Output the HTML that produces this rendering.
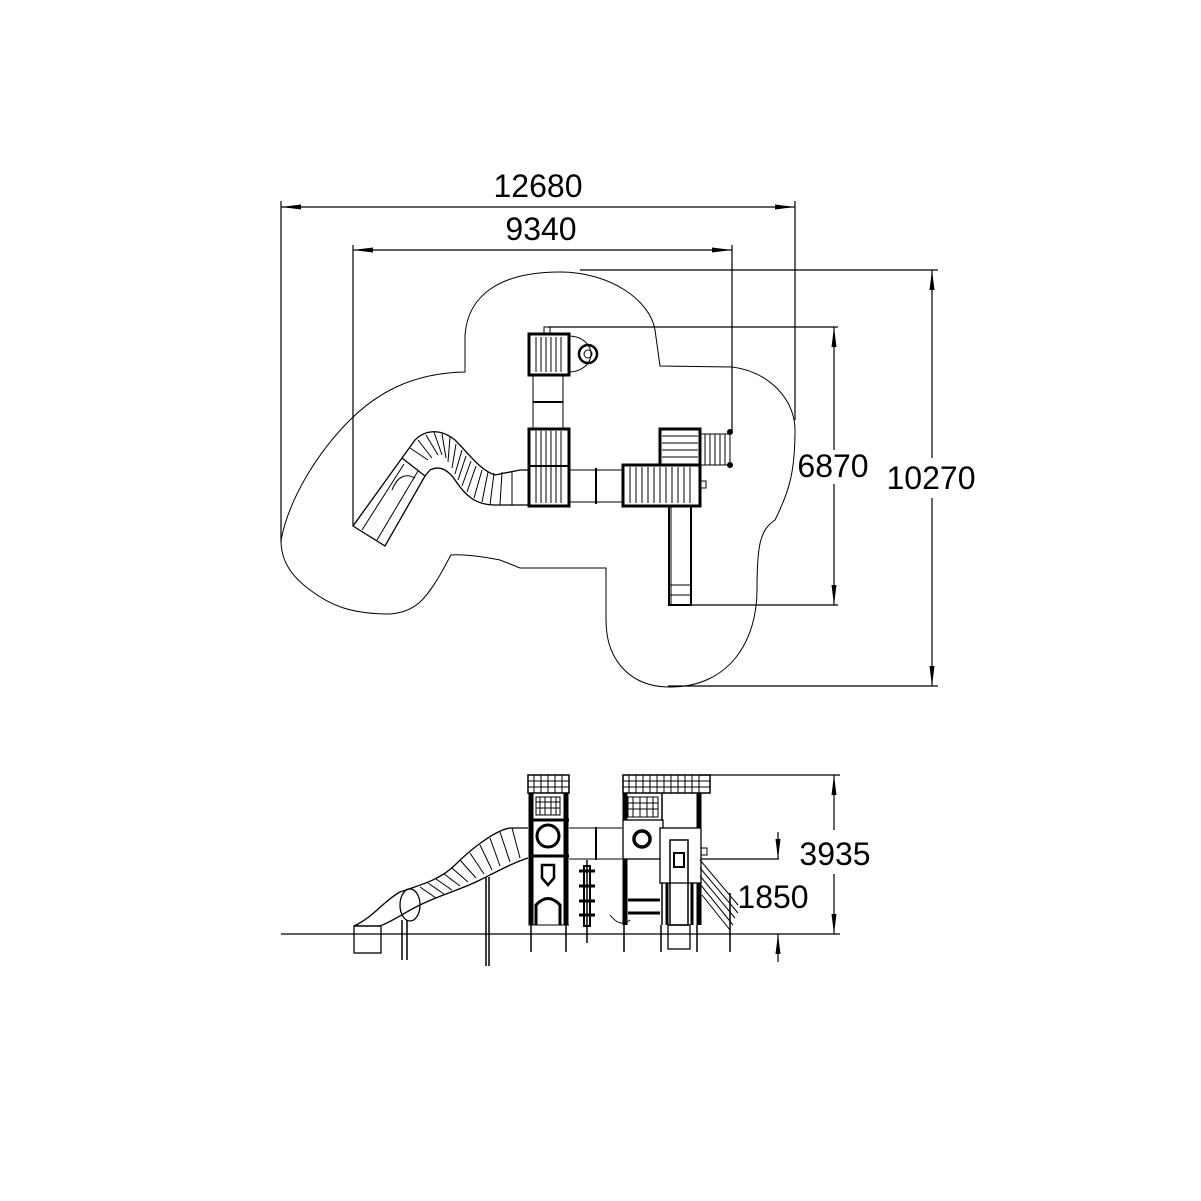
<!DOCTYPE html>
<html><head><meta charset="utf-8"><style>html,body{margin:0;padding:0;background:#fff}svg{display:block}text{font-family:"Liberation Sans",sans-serif;fill:#000}</style></head>
<body>
<svg width="1201" height="1201" viewBox="0 0 1201 1201" xmlns="http://www.w3.org/2000/svg">
<defs>
<marker id="a" viewBox="0 0 20 6" refX="20" refY="3" markerWidth="20" markerHeight="6" markerUnits="userSpaceOnUse" orient="auto-start-reverse"><path d="M0,0.5 L20,3 L0,5.5z" fill="#000"/></marker>
</defs>
<g stroke="#000" fill="none" stroke-width="1.2">
<line x1="281" y1="201" x2="281" y2="542"/><line x1="795" y1="201" x2="795" y2="420"/>
<line x1="281" y1="207" x2="795" y2="207" marker-start="url(#a)" marker-end="url(#a)"/>
<line x1="353" y1="245" x2="353" y2="526"/><line x1="732" y1="245" x2="732" y2="432"/>
<line x1="353" y1="250" x2="732" y2="250" marker-start="url(#a)" marker-end="url(#a)"/>
<line x1="580" y1="270" x2="938" y2="270"/><line x1="668" y1="686" x2="938" y2="686"/>
<line x1="932" y1="270" x2="932" y2="458" marker-start="url(#a)"/><line x1="932" y1="498" x2="932" y2="686" marker-end="url(#a)"/>
<line x1="548" y1="327" x2="838" y2="327"/><line x1="690" y1="605" x2="838" y2="605"/>
<line x1="834" y1="327" x2="834" y2="450" marker-start="url(#a)"/><line x1="834" y1="484" x2="834" y2="605" marker-end="url(#a)"/>
<path stroke-width="1" d="M281,540 C290,495 320,450 350,420 C375,395 410,373 465,372 L465,335 C468,295 500,272 560,272 C610,272 650,300 655,330 L660,366 L732,367 C770,372 795,400 795,430 C795,470 790,490 775,520 C760,530 757,545 757,590 C757,640 730,687 670,687 C630,687 606,660 606,620 L606,568 L520,568 L500,560 C480,556 460,554 451,555 L440,575 C425,600 415,612 390,614 C350,614 330,605 310,590 C290,575 281,560 281,540 Z"/>
</g>
<g stroke="#000" fill="none">
<rect x="529" y="334" width="40" height="41" stroke-width="3"/>
<g stroke-width="1"><line x1="536" y1="337" x2="536" y2="372"/><line x1="541" y1="337" x2="541" y2="372"/><line x1="546" y1="337" x2="546" y2="372"/><line x1="551" y1="337" x2="551" y2="372"/><line x1="556" y1="337" x2="556" y2="372"/><line x1="561" y1="337" x2="561" y2="372"/></g>
<rect x="544" y="327" width="6" height="7" stroke-width="1"/>
<path d="M569,336 A22,18 0 0 1 569,372" stroke-width="1"/>
<circle cx="588" cy="354" r="9" stroke-width="2.5"/><circle cx="588" cy="354" r="4" stroke-width="1"/>
<line x1="533" y1="375" x2="533" y2="428" stroke-width="1"/><line x1="563" y1="375" x2="563" y2="428" stroke-width="1"/>
<line x1="533" y1="402" x2="563" y2="402" stroke-width="2"/>
<rect x="529" y="429" width="40" height="77" stroke-width="3"/>
<line x1="529" y1="466" x2="569" y2="466" stroke-width="2"/>
<g stroke-width="1"><line x1="536" y1="431" x2="536" y2="503"/><line x1="541" y1="431" x2="541" y2="503"/><line x1="546" y1="431" x2="546" y2="503"/><line x1="551" y1="431" x2="551" y2="503"/><line x1="556" y1="431" x2="556" y2="503"/><line x1="561" y1="431" x2="561" y2="503"/></g>
<line x1="569" y1="470" x2="622" y2="470" stroke-width="1"/><line x1="569" y1="502" x2="622" y2="502" stroke-width="1"/>
<line x1="596" y1="468" x2="596" y2="504" stroke-width="2"/>
<rect x="623" y="465" width="77" height="41" stroke-width="3"/>
<g stroke-width="1"><line x1="630" y1="467" x2="630" y2="503"/><line x1="636" y1="467" x2="636" y2="503"/><line x1="642" y1="467" x2="642" y2="503"/><line x1="648" y1="467" x2="648" y2="503"/><line x1="654" y1="467" x2="654" y2="503"/><line x1="660" y1="467" x2="660" y2="503"/><line x1="666" y1="467" x2="666" y2="503"/><line x1="672" y1="467" x2="672" y2="503"/><line x1="678" y1="467" x2="678" y2="503"/><line x1="684" y1="467" x2="684" y2="503"/><line x1="690" y1="467" x2="690" y2="503"/></g>
<rect x="660" y="429" width="40" height="36" stroke-width="3"/>
<g stroke-width="1"><line x1="662" y1="436" x2="698" y2="436"/><line x1="662" y1="443" x2="698" y2="443"/><line x1="662" y1="450" x2="698" y2="450"/><line x1="662" y1="457" x2="698" y2="457"/></g>
<rect x="700" y="434" width="30" height="31" stroke-width="1"/>
<g stroke-width="1"><line x1="705" y1="434" x2="705" y2="465"/><line x1="710" y1="434" x2="710" y2="465"/><line x1="715" y1="434" x2="715" y2="465"/><line x1="720" y1="434" x2="720" y2="465"/><line x1="725" y1="434" x2="725" y2="465"/></g>
<circle cx="730" cy="432" r="2.5" fill="#000"/><circle cx="730" cy="465" r="2.5" fill="#000"/>
<rect x="700" y="481" width="6" height="7" stroke-width="1"/>
<rect x="669" y="506" width="22" height="99" stroke-width="2"/>
<line x1="671" y1="506" x2="671" y2="605" stroke-width="1"/>
<line x1="669" y1="585" x2="691" y2="585" stroke-width="1"/><line x1="669" y1="595" x2="691" y2="595" stroke-width="1"/>
<path d="M353,526 L385,546 L425,476 L402,458 Z" stroke-width="1.3"/>
<path d="M362,530 L404,464 M377,540 L418,471" stroke-width="1"/>
<path d="M392,490 Q400,470 415,478" stroke-width="1"/>
<path d="M402,458 L415,440 C425,430 440,428 455,440 C470,455 480,470 495,475 L520,470 L529,470 L529,505 L495,505 C475,505 465,495 455,480 C448,470 440,465 430,470 L425,476" stroke-width="1.3"/>
<g stroke-width="1">
<path d="M410,448 L428,460"/><path d="M418,440 L432,458"/><path d="M426,435 L438,455"/><path d="M434,432 L442,455"/><path d="M442,434 L446,458"/><path d="M450,437 L448,462"/><path d="M456,444 L452,468"/><path d="M462,450 L455,474"/><path d="M466,456 L458,480"/><path d="M471,461 L462,486"/><path d="M476,466 L467,492"/><path d="M482,470 L474,498"/><path d="M488,472 L482,502"/><path d="M494,473 L490,505"/><path d="M502,472 L500,505"/><path d="M512,471 L512,505"/>
</g>
</g>
<g stroke="#000" fill="none">
<line x1="281" y1="934" x2="840" y2="934" stroke-width="1.2"/>
<line x1="700" y1="775" x2="840" y2="775" stroke-width="1.2"/>
<line x1="834" y1="775" x2="834" y2="830" stroke-width="1.2" marker-start="url(#a)"/>
<line x1="834" y1="874" x2="834" y2="934" stroke-width="1.2" marker-end="url(#a)"/>
<line x1="700" y1="859" x2="779" y2="859" stroke-width="1.2"/>
<line x1="778" y1="832" x2="778" y2="859" stroke-width="1.2" marker-end="url(#a)"/>
<line x1="778" y1="962" x2="778" y2="934" stroke-width="1.2" marker-end="url(#a)"/>
<!-- tower 1 -->
<rect x="528" y="775" width="41" height="18" stroke-width="1.5"/>
<path d="M528,781 L569,781 M528,787 L569,787 M534,775 L534,793 M541,775 L541,793 M548,775 L548,793 M555,775 L555,793 M562,775 L562,793" stroke-width="1"/>
<rect x="529" y="793" width="39" height="132" stroke-width="1"/>
<line x1="531" y1="793" x2="531" y2="925" stroke-width="5"/><line x1="566" y1="793" x2="566" y2="925" stroke-width="5"/>
<rect x="536" y="797" width="24" height="18" stroke-width="1"/>
<path d="M536,802 L560,802 M536,808 L560,808 M540,797 L540,815 M545,797 L545,815 M551,797 L551,815 M556,797 L556,815" stroke-width="1"/>
<line x1="529" y1="820" x2="569" y2="820" stroke-width="3"/>
<circle cx="548" cy="836" r="11" stroke-width="3"/>
<line x1="529" y1="856" x2="569" y2="856" stroke-width="3"/>
<path d="M542,865 L554,865 L554,878 L548,885 L542,878 Z" stroke-width="2.5"/>
<path d="M536,925 L536,905 Q548,892 560,905 L560,925" stroke-width="3"/>
<line x1="529" y1="925" x2="569" y2="925" stroke-width="1"/>
<line x1="531" y1="925" x2="531" y2="952" stroke-width="1.5"/><line x1="566" y1="925" x2="566" y2="952" stroke-width="1.5"/>
<line x1="569" y1="828" x2="622" y2="828" stroke-width="1"/><line x1="569" y1="859" x2="622" y2="859" stroke-width="1"/>
<line x1="596" y1="827" x2="596" y2="860" stroke-width="2"/>
<line x1="587" y1="860" x2="587" y2="943" stroke-width="1.5"/>
<rect x="584" y="866" width="6" height="60" stroke-width="2"/>
<path d="M579,871 L595,871 M579,886 L595,886 M579,901 L595,901 M579,915 L595,915" stroke-width="3"/>
<!-- tower 2 -->
<rect x="623" y="775" width="87" height="18" stroke-width="1.5"/>
<path d="M623,781 L710,781 M623,787 L710,787 M629,775 L629,793 M636,775 L636,793 M643,775 L643,793 M650,775 L650,793 M657,775 L657,793 M664,775 L664,793 M671,775 L671,793 M678,775 L678,793 M685,775 L685,793 M692,775 L692,793 M699,775 L699,793" stroke-width="1"/>
<line x1="625" y1="793" x2="625" y2="925" stroke-width="5"/><line x1="699" y1="793" x2="699" y2="925" stroke-width="5"/>
<line x1="662" y1="793" x2="662" y2="925" stroke-width="1.5"/>
<rect x="628" y="797" width="30" height="20" stroke-width="1"/>
<path d="M628,803 L658,803 M628,809 L658,809 M633,797 L633,817 M640,797 L640,817 M647,797 L647,817 M653,797 L653,817" stroke-width="1"/>
<rect x="623" y="820" width="40" height="39" stroke-width="1.3" fill="#fff"/>
<circle cx="642" cy="839" r="8" stroke-width="3.5"/>
<rect x="660" y="828" width="41" height="55" stroke-width="1.3" fill="#fff"/>
<rect x="670" y="840" width="18" height="85" stroke-width="1.5"/>
<rect x="674" y="853" width="10" height="14" stroke-width="2"/>
<line x1="667" y1="883" x2="667" y2="925" stroke-width="3"/><line x1="692" y1="883" x2="692" y2="925" stroke-width="3"/>
<path d="M628,900 L660,900 M628,913 L660,913" stroke-width="3"/>
<path d="M610,915 Q620,928 630,920" stroke-width="1"/>
<rect x="701" y="848" width="6" height="7" stroke-width="1"/>
<path d="M700,860 L738,905 M700,868 L738,913 M700,876 L735,918 M700,884 L733,925 M702,895 L730,930" stroke-width="1"/>
<line x1="730" y1="893" x2="730" y2="952" stroke-width="1.5"/>
<line x1="624" y1="925" x2="624" y2="952" stroke-width="1.5"/><line x1="661" y1="925" x2="661" y2="952" stroke-width="1.5"/><line x1="697" y1="925" x2="697" y2="952" stroke-width="1.5"/>
<rect x="668" y="925" width="22" height="24" stroke-width="1.3"/>
<!-- slide -->
<path d="M528,828 L510,828 C495,830 470,850 455,865 C440,880 420,885 400,892 C385,900 375,915 358,924 L354,926 L380,926 C395,920 405,912 420,905 C440,895 460,890 480,880 C500,870 515,862 528,858" stroke-width="1.3"/>
<g stroke-width="1">
<path d="M512,828 L520,858"/><path d="M500,832 L510,862"/><path d="M490,838 L500,866"/><path d="M480,845 L492,870"/><path d="M470,853 L484,874"/><path d="M460,860 L476,878"/><path d="M452,868 L468,882"/><path d="M444,874 L460,886"/><path d="M436,879 L452,890"/><path d="M428,883 L444,894"/><path d="M420,887 L436,898"/>
</g>
<ellipse cx="410" cy="905" rx="10" ry="16" stroke-width="1.3"/>
<rect x="354" y="926" width="27" height="27" stroke-width="1.3"/>
<line x1="402" y1="920" x2="402" y2="960" stroke-width="1.5"/><line x1="407" y1="920" x2="407" y2="960" stroke-width="1.5"/>
<line x1="486" y1="877" x2="486" y2="966" stroke-width="1.5"/><line x1="489" y1="877" x2="489" y2="966" stroke-width="1.5"/>
</g>
<text x="538" y="197" font-size="32" text-anchor="middle">12680</text>
<text x="541" y="240" font-size="32" text-anchor="middle">9340</text>
<text x="833" y="477" font-size="32" text-anchor="middle">6870</text>
<text x="931" y="489" font-size="32" text-anchor="middle">10270</text>
<text x="835" y="865" font-size="32" text-anchor="middle">3935</text>
<text x="773" y="908" font-size="32" text-anchor="middle">1850</text>
</svg>
</body></html>
